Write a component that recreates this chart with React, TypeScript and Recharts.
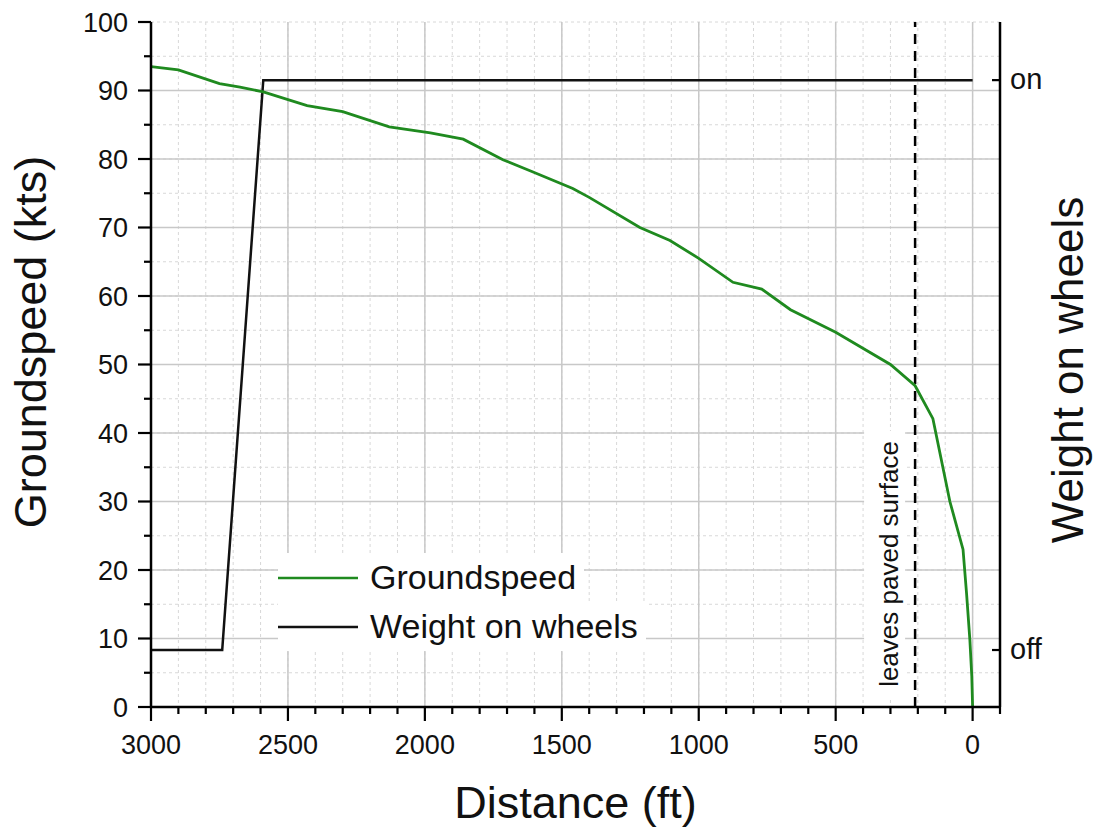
import { LineChart, Line, XAxis, YAxis, CartesianGrid, ReferenceLine, Legend } from "recharts";

const FONT = '"Liberation Sans", Arial, Helvetica, sans-serif';

// groundspeed trace (ft from stop, kts)
const distance = [3000, 2900, 2750, 2675, 2590, 2430, 2300, 2130, 1980, 1860, 1715, 1605, 1460, 1400, 1215, 1105, 1000, 875, 770, 665, 500, 300, 210, 145, 83, 35, 22, 10, 3, 0];
const groundspeed = [93.5, 93.0, 91.0, 90.5, 89.8, 87.8, 86.9, 84.7, 83.8, 82.9, 79.9, 78.1, 75.7, 74.4, 70.0, 68.1, 65.5, 62.0, 61.0, 58.0, 54.7, 50.0, 46.9, 42.1, 30.0, 23.0, 16.5, 9.8, 4.5, 0];

// weight on wheels: 0 = off, 1 = on
const wowDistance = [3000, 2740, 2590, 0];
const wowState = [0, 0, 1, 1];

const xTicks = [3000, 2900, 2800, 2700, 2600, 2500, 2400, 2300, 2200, 2100, 2000, 1900, 1800, 1700, 1600, 1500, 1400, 1300, 1200, 1100, 1000, 900, 800, 700, 600, 500, 400, 300, 200, 100, 0, -100];
const yTicks = [0, 5, 10, 15, 20, 25, 30, 35, 40, 45, 50, 55, 60, 65, 70, 75, 80, 85, 90, 95, 100];
const xMajor = [2500, 2000, 1500, 1000, 500, 0];
const yMajor = [10, 20, 30, 40, 50, 60, 70, 80, 90];
const wowTicks = [0, 1];
const wowLabels = ["off", "on"];
const pavedEnd = 210;

const speedRows = distance.map((d, i) => ({ d, v: groundspeed[i] }));
const wowRows = wowDistance.map((d, i) => ({ d, w: wowState[i] }));

function BottomTick({ x, y, payload }: any) {
  const v = payload.value;
  const major = v % 500 === 0;
  return (
    <g>
      <line x1={x} x2={x} y1={y} y2={y + (major ? 14 : 7)} stroke="#000" strokeWidth={2.2} />
      {major && (
        <text x={x} y={y + 47} textAnchor="middle" fontSize={27} fontFamily={FONT} fill="#111">
          {v}
        </text>
      )}
    </g>
  );
}

function LeftTick({ x, y, payload }: any) {
  const v = payload.value;
  const major = v % 10 === 0;
  return (
    <g>
      <line x1={x - (major ? 13 : 7)} x2={x} y1={y} y2={y} stroke="#000" strokeWidth={2.2} />
      {major && (
        <text x={x - 23} y={y} dy="0.36em" textAnchor="end" fontSize={27} fontFamily={FONT} fill="#111">
          {v}
        </text>
      )}
    </g>
  );
}

function RightTick({ x, y, payload }: any) {
  return (
    <g>
      <line x1={x - 8} x2={x} y1={y} y2={y} stroke="#000" strokeWidth={2.2} />
      <text x={x + 10} y={y} dy="0.3em" textAnchor="start" fontSize={29} fontFamily={FONT} fill="#111">
        {wowLabels[wowTicks.indexOf(payload.value)]}
      </text>
    </g>
  );
}

function PavedLabel({ viewBox }: any) {
  const lx = viewBox.x;
  const cy = viewBox.y + viewBox.height - 143;
  const bx = lx - 17;
  return (
    <g>
      <rect x={lx - 51} y={cy - 133} width={41} height={266} fill="#fff" />
      <text
        x={bx}
        y={cy}
        transform={`rotate(-90, ${bx}, ${cy})`}
        textAnchor="middle"
        fontSize={26}
        fontFamily={FONT}
        fill="#111"
      >
        leaves paved surface
      </text>
    </g>
  );
}

function LegendBox() {
  const rows = [
    { name: "Groundspeed", color: "#1f8a1f" },
    { name: "Weight on wheels", color: "#111" },
  ];
  return (
    <div style={{ fontFamily: FONT }}>
      {rows.map((r) => (
        <div
          key={r.name}
          style={{ display: "flex", alignItems: "center", height: 49, background: "#fff", width: "fit-content", paddingRight: 8 }}
        >
          <svg width={80} height={6}>
            <line x1={0} x2={80} y1={3} y2={3} stroke={r.color} strokeWidth={2.5} />
          </svg>
          <span style={{ marginLeft: 12, fontSize: 34, color: "#111", lineHeight: "49px" }}>{r.name}</span>
        </div>
      ))}
    </div>
  );
}

export default function App() {
  return (
    <div style={{ position: "absolute", left: 0, top: 0, background: "#fff" }}>
      <LineChart width={1095} height={827} margin={{ top: 22, right: 0, bottom: 0, left: 0 }}>
        <CartesianGrid stroke="#d8d8d8" strokeDasharray="3 3" strokeWidth={1} />
        {xMajor.map((v) => (
          <ReferenceLine key={`vx${v}`} x={v} stroke="#c8c8c8" strokeWidth={1.5} />
        ))}
        {yMajor.map((v) => (
          <ReferenceLine key={`hy${v}`} y={v} stroke="#c8c8c8" strokeWidth={1.5} />
        ))}
        <XAxis
          type="number"
          dataKey="d"
          domain={[-100, 3000]}
          reversed
          ticks={xTicks}
          interval={0}
          allowDataOverflow
          height={120}
          tickSize={0}
          tickMargin={0}
          tickLine={false}
          tick={<BottomTick />}
          axisLine={{ stroke: "#000", strokeWidth: 2.5 }}
          label={{
            content: ({ viewBox }: any) => (
              <text
                x={viewBox.x + viewBox.width / 2}
                y={viewBox.y + 111}
                textAnchor="middle"
                fontSize={45}
                fontFamily={FONT}
                fill="#111"
              >
                Distance (ft)
              </text>
            ),
          }}
        />
        <YAxis
          type="number"
          domain={[0, 100]}
          ticks={yTicks}
          interval={0}
          width={151}
          tickSize={0}
          tickMargin={0}
          tickLine={false}
          tick={<LeftTick />}
          axisLine={{ stroke: "#000", strokeWidth: 2.5 }}
          label={{
            content: () => (
              <text x={46} y={342} transform="rotate(-90, 46, 342)" textAnchor="middle" fontSize={45} fontFamily={FONT} fill="#111">
                Groundspeed (kts)
              </text>
            ),
          }}
        />
        <YAxis
          yAxisId="w"
          orientation="right"
          type="number"
          domain={[-0.1, 1.102]}
          ticks={wowTicks}
          interval={0}
          width={95}
          tickSize={0}
          tickMargin={0}
          tickLine={false}
          tick={<RightTick />}
          axisLine={{ stroke: "#000", strokeWidth: 2.5 }}
          label={{
            content: () => (
              <text x={1083} y={370} transform="rotate(-90, 1083, 370)" textAnchor="middle" fontSize={44} fontFamily={FONT} fill="#111">
                Weight on wheels
              </text>
            ),
          }}
        />
        <ReferenceLine
          x={pavedEnd}
          stroke="#000"
          strokeWidth={2.5}
          strokeDasharray="10 7"
          label={{ content: <PavedLabel /> }}
        />
        <Line
          data={wowRows}
          dataKey="w"
          yAxisId="w"
          type="linear"
          stroke="#111"
          strokeWidth={2.5}
          dot={false}
          activeDot={false}
          isAnimationActive={false}
        />
        <Line
          data={speedRows}
          dataKey="v"
          type="linear"
          stroke="#1f8a1f"
          strokeWidth={2.8}
          dot={false}
          activeDot={false}
          isAnimationActive={false}
        />
        <Legend
          layout="horizontal"
          verticalAlign="middle"
          align="center"
          wrapperStyle={{ left: 278, top: 553, width: "auto" }}
          content={<LegendBox />}
        />
      </LineChart>
    </div>
  );
}
